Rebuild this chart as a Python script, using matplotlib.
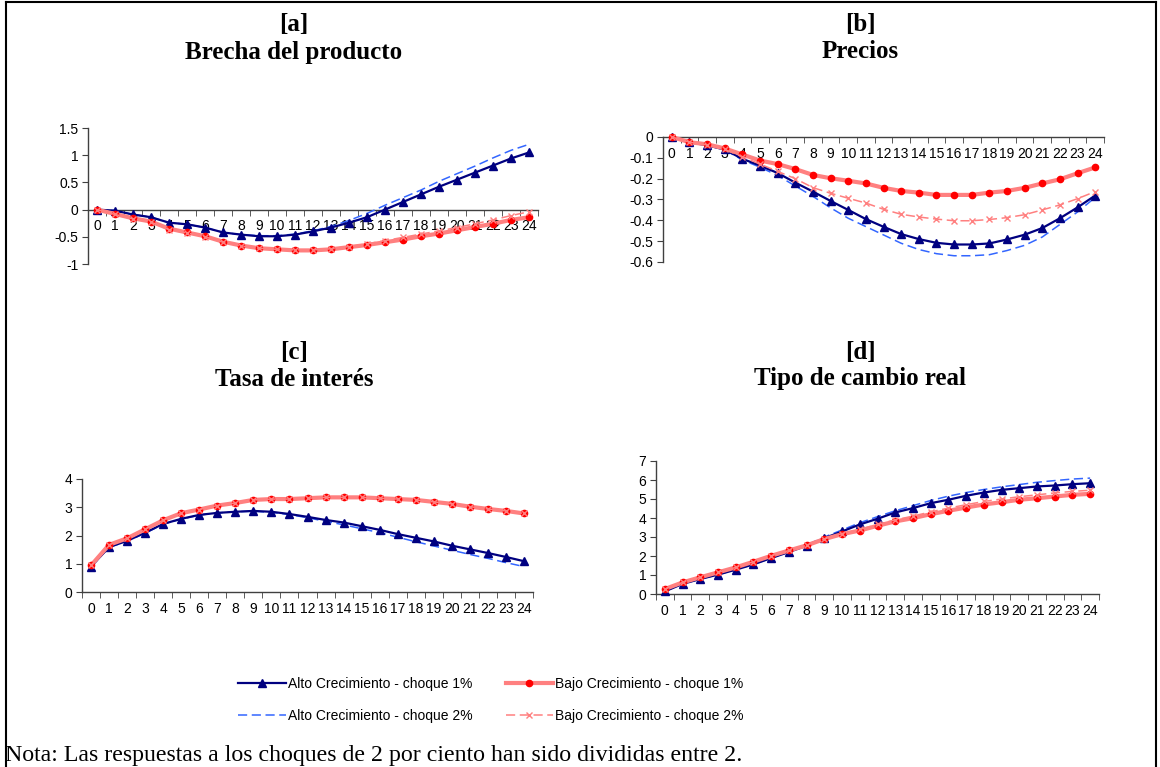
import numpy as np
import matplotlib
matplotlib.use("Agg")
import matplotlib.pyplot as plt
from matplotlib.lines import Line2D

periods = list(range(25))

# [a] Brecha del producto
brecha_alto1 = [0, -0.02, -0.09, -0.14, -0.24, -0.27, -0.33, -0.42, -0.46, -0.49, -0.49, -0.46, -0.40,
                -0.33, -0.24, -0.14, 0.0, 0.14, 0.28, 0.42, 0.55, 0.68, 0.81, 0.94, 1.05]
brecha_alto2 = [0, -0.02, -0.09, -0.14, -0.24, -0.27, -0.33, -0.42, -0.46, -0.48, -0.48, -0.45, -0.39,
                -0.31, -0.20, -0.07, 0.08, 0.22, 0.36, 0.52, 0.66, 0.80, 0.95, 1.09, 1.20]
brecha_bajo1 = [0, -0.08, -0.16, -0.22, -0.35, -0.42, -0.49, -0.59, -0.66, -0.71, -0.73, -0.75, -0.75,
                -0.73, -0.69, -0.65, -0.60, -0.55, -0.49, -0.44, -0.38, -0.32, -0.26, -0.19, -0.14]
brecha_bajo2 = [0, -0.09, -0.17, -0.23, -0.37, -0.43, -0.50, -0.60, -0.67, -0.71, -0.73, -0.74, -0.74,
                -0.72, -0.68, -0.63, -0.57, -0.51, -0.45, -0.39, -0.33, -0.26, -0.19, -0.11, -0.04]

# [b] Precios
precios_alto1 = [0, -0.025, -0.04, -0.06, -0.105, -0.137, -0.173, -0.219, -0.262, -0.307, -0.35, -0.394,
                 -0.431, -0.466, -0.49, -0.508, -0.516, -0.516, -0.511, -0.492, -0.469, -0.437, -0.39,
                 -0.338, -0.281]
precios_alto2 = [0, -0.025, -0.04, -0.062, -0.11, -0.145, -0.185, -0.235, -0.285, -0.34, -0.39, -0.43,
                 -0.47, -0.51, -0.54, -0.56, -0.57, -0.57, -0.565, -0.545, -0.52, -0.48, -0.42, -0.36,
                 -0.29]
precios_bajo1 = [0, -0.025, -0.035, -0.055, -0.084, -0.113, -0.13, -0.154, -0.182, -0.198, -0.21, -0.223,
                 -0.244, -0.259, -0.267, -0.278, -0.278, -0.278, -0.267, -0.259, -0.244, -0.223, -0.203,
                 -0.174, -0.146]
precios_bajo2 = [0, -0.025, -0.038, -0.06, -0.095, -0.13, -0.165, -0.2, -0.243, -0.27, -0.294, -0.317,
                 -0.347, -0.371, -0.384, -0.394, -0.402, -0.402, -0.396, -0.387, -0.373, -0.35, -0.326,
                 -0.296, -0.262]

# [c] Tasa de interes
tasa_alto1 = [0.9, 1.59, 1.81, 2.1, 2.41, 2.59, 2.73, 2.8, 2.84, 2.87, 2.84, 2.76, 2.66, 2.55, 2.46,
              2.33, 2.2, 2.05, 1.92, 1.79, 1.64, 1.51, 1.38, 1.24, 1.09]
tasa_alto2 = [0.88, 1.58, 1.8, 2.08, 2.4, 2.58, 2.72, 2.8, 2.84, 2.86, 2.82, 2.74, 2.63, 2.5, 2.38,
              2.24, 2.1, 1.94, 1.78, 1.63, 1.48, 1.33, 1.19, 1.04, 0.9]
tasa_bajo1 = [0.94, 1.67, 1.9, 2.22, 2.54, 2.79, 2.92, 3.06, 3.15, 3.26, 3.29, 3.29, 3.32, 3.35, 3.35,
              3.35, 3.32, 3.29, 3.26, 3.19, 3.12, 3.02, 2.94, 2.87, 2.78]
tasa_bajo2 = [0.94, 1.67, 1.9, 2.22, 2.54, 2.79, 2.92, 3.06, 3.15, 3.26, 3.29, 3.29, 3.32, 3.35, 3.35,
              3.35, 3.32, 3.29, 3.26, 3.19, 3.12, 3.02, 2.94, 2.87, 2.78]

# [d] Tipo de cambio real
tcr_alto1 = [0.14, 0.53, 0.79, 1.02, 1.28, 1.56, 1.89, 2.21, 2.54, 2.94, 3.29, 3.66, 3.96, 4.29, 4.52,
             4.78, 4.96, 5.17, 5.34, 5.48, 5.57, 5.66, 5.71, 5.78, 5.83]
tcr_alto2 = [0.14, 0.53, 0.79, 1.02, 1.28, 1.56, 1.89, 2.22, 2.58, 3.0, 3.37, 3.75, 4.07, 4.38, 4.65,
             4.92, 5.15, 5.34, 5.5, 5.64, 5.76, 5.88, 5.97, 6.05, 6.1]
tcr_bajo1 = [0.26, 0.61, 0.88, 1.14, 1.4, 1.7, 2.01, 2.29, 2.56, 2.89, 3.15, 3.34, 3.59, 3.82, 3.99,
             4.2, 4.38, 4.55, 4.71, 4.83, 4.96, 5.04, 5.13, 5.22, 5.27]
tcr_bajo2 = [0.26, 0.61, 0.88, 1.14, 1.4, 1.7, 2.01, 2.29, 2.56, 2.9, 3.18, 3.4, 3.66, 3.9, 4.1,
             4.32, 4.52, 4.7, 4.87, 5.0, 5.12, 5.22, 5.32, 5.4, 5.46]

series_labels = ["Alto Crecimiento - choque 1%", "Alto Crecimiento - choque 2%",
                 "Bajo Crecimiento - choque 1%", "Bajo Crecimiento - choque 2%"]

W, H = 1160, 767
SANS = "Liberation Sans"
SERIF = "Liberation Serif"

fig = plt.figure(figsize=(W / 100, H / 100), dpi=100)


def px_axes(left, right, top, bottom):
    return fig.add_axes([left / W, 1 - bottom / H, (right - left) / W, (bottom - top) / H])


def style_a1():
    return dict(color="#000080", lw=1.6, marker="^", ms=5.5, mfc="#000080", mec="#000080")


def style_a2():
    return dict(color="#3366FF", lw=1.1, ls=(0, (6, 3)))


def style_b1():
    return dict(color="#FF8080", lw=3.0, marker="o", ms=4.5, mfc="#FF0000", mec="#FF0000")


def style_b2():
    return dict(color="#FF8080", lw=1.1, ls=(0, (6, 3)), marker="x", ms=5, mew=1.0, mec="#FF8080")


def panel(ax, a1, a2, b1, b2, yticks, ylim, zero_axis):
    ax.plot(periods, a2, clip_on=False, zorder=3, **style_a2())
    ax.plot(periods, a1, clip_on=False, zorder=4, **style_a1())
    ax.plot(periods, b1, clip_on=False, zorder=5, **style_b1())
    ax.plot(periods, b2, clip_on=False, zorder=6, **style_b2())
    ax.set_xlim(-0.5, 24.5)
    ax.set_ylim(*ylim)
    for s in ["top", "right"]:
        ax.spines[s].set_visible(False)
    for s in ["left", "bottom"]:
        ax.spines[s].set_color("#404040")
        ax.spines[s].set_linewidth(1.0)
    if zero_axis:
        ax.spines["bottom"].set_position(("data", 0))
    ax.set_xticks(periods)
    ax.set_xticklabels([str(p) for p in periods], fontsize=10, family=SANS)
    ax.set_xticks(np.arange(-0.5, 25, 1), minor=True)
    ax.tick_params(axis="x", which="major", length=0, pad=7)
    ax.tick_params(axis="x", which="minor", length=4, direction="out", color="#404040")
    ax.set_yticks(yticks)
    ax.set_yticklabels([f"{v:g}" for v in yticks], fontsize=10, family=SANS)
    ax.tick_params(axis="y", length=4, direction="out", color="#404040", pad=3)
    ax.patch.set_visible(False)


ax_a = px_axes(88, 538, 128, 264)
panel(ax_a, brecha_alto1, brecha_alto2, brecha_bajo1, brecha_bajo2,
      [-1, -0.5, 0, 0.5, 1, 1.5], (-1, 1.5), True)

ax_b = px_axes(663, 1104, 137, 262)
panel(ax_b, precios_alto1, precios_alto2, precios_bajo1, precios_bajo2,
      [-0.6, -0.5, -0.4, -0.3, -0.2, -0.1, 0], (-0.6, 0), True)

ax_c = px_axes(82, 533, 479, 592)
panel(ax_c, tasa_alto1, tasa_alto2, tasa_bajo1, tasa_bajo2,
      [0, 1, 2, 3, 4], (0, 4), False)

ax_d = px_axes(656, 1099, 461, 594)
panel(ax_d, tcr_alto1, tcr_alto2, tcr_bajo1, tcr_bajo2,
      [0, 1, 2, 3, 4, 5, 6, 7], (0, 7), False)

# titles
titles = [("[a]", "Brecha del producto", 294, 25, 52),
          ("[b]", "Precios", 860, 25, 52),
          ("[c]", "Tasa de interés", 294, 352, 379),
          ("[d]", "Tipo de cambio real", 860, 352, 379)]
for tag, name, cx, y1, y2 in titles:
    fig.text(cx / W, 1 - y1 / H, tag, ha="center", va="center", fontsize=18,
             fontweight="bold", family=SERIF)
    fig.text(cx / W, 1 - y2 / H, name, ha="center", va="center", fontsize=18,
             fontweight="bold", family=SERIF)

# legend
handles = [Line2D([], [], **style_a1()), Line2D([], [], **style_a2()),
           Line2D([], [], **style_b1()), Line2D([], [], **style_b2())]
fig.legend(handles, series_labels, ncol=2, loc="center",
           bbox_to_anchor=(491 / W, 1 - 700 / H), frameon=False,
           prop={"family": SANS, "size": 10}, handlelength=3.4, handletextpad=0.15,
           columnspacing=2.4, labelspacing=1.3, borderpad=0, markerfirst=True)

fig.text(5 / W, 1 - 755 / H,
         "Nota: Las respuestas a los choques de 2 por ciento han sido divididas entre 2.",
         ha="left", va="center", fontsize=17.2, family=SERIF)

# frame around the figure
for xs, ys in [((6, 6), (2, 767)), ((6, 1156), (2, 2)), ((1156, 1156), (2, 767))]:
    fig.add_artist(Line2D([x / W for x in xs], [1 - y / H for y in ys], color="black", lw=1.5))

fig.savefig("out.png", dpi=100)
